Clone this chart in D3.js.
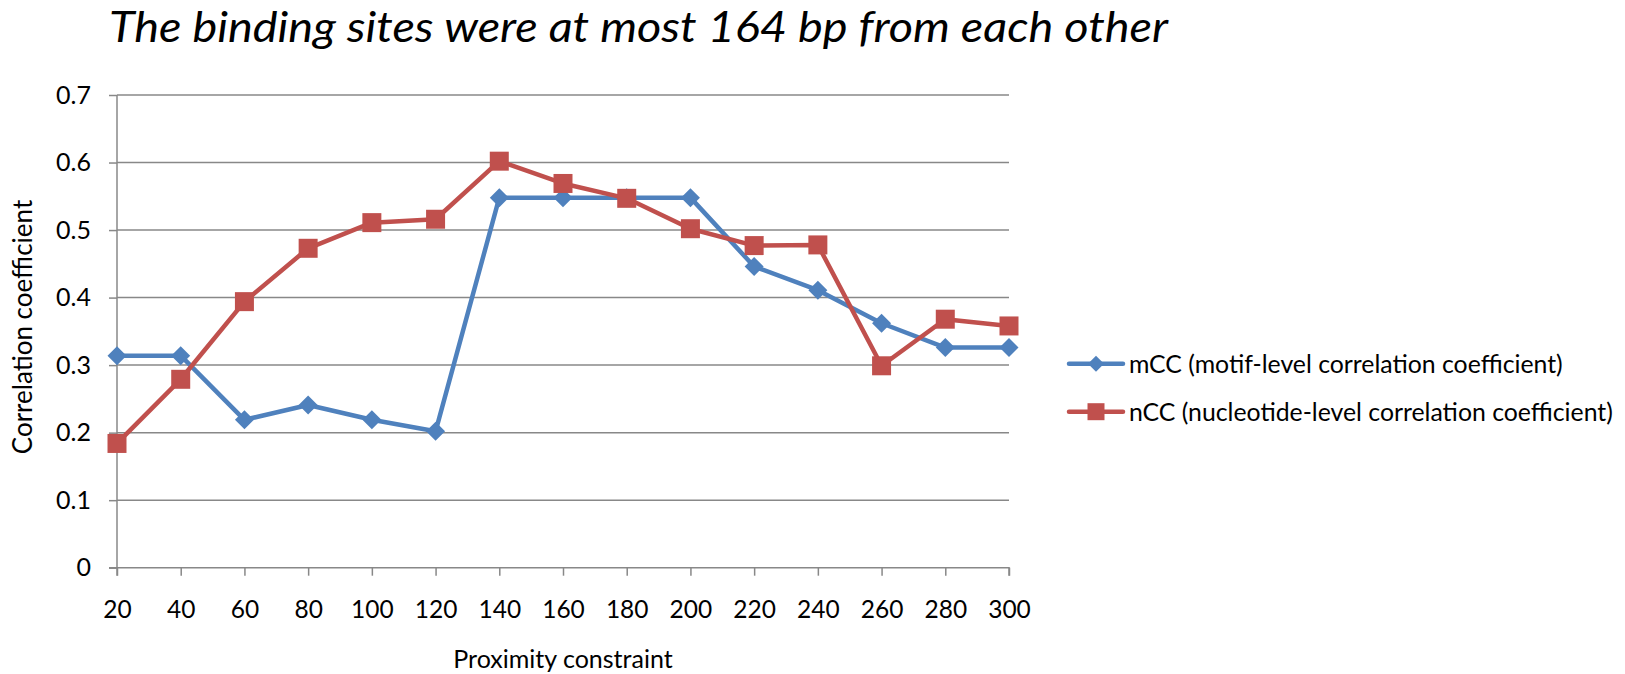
<!DOCTYPE html>
<html>
<head>
<meta charset="utf-8">
<script src="https://cdn.jsdelivr.net/npm/d3@7"></script>
<style>
  html, body { margin: 0; padding: 0; background: #ffffff; }
  svg { display: block; }
  text { font-family: Lato, "Open Sans", sans-serif; fill: #000; }
</style>
</head>
<body>
<svg id="chart" width="1625" height="674"></svg>
<script>
// Proximity constraint (bp) on the category axis
const proximity = [20, 40, 60, 80, 100, 120, 140, 160, 180, 200, 220, 240, 260, 280, 300];

// Motif-level correlation coefficient
const mCC = [0.314, 0.314, 0.219, 0.241, 0.219, 0.202, 0.548, 0.548, 0.548, 0.548, 0.446, 0.411, 0.362, 0.326, 0.326];

// Nucleotide-level correlation coefficient
const nCC = [0.184, 0.279, 0.394, 0.473, 0.511, 0.516, 0.602, 0.569, 0.547, 0.502, 0.477, 0.478, 0.299, 0.368, 0.358];

const yTicks = [0, 0.1, 0.2, 0.3, 0.4, 0.5, 0.6, 0.7];

const seriesNames = [
  "mCC (motif-level correlation coefficient)",
  "nCC (nucleotide-level correlation coefficient)"
];

const titleText = "The binding sites were at most 164 bp from each other";

const blue = "#4F81BD";
const red = "#C0504D";
const gridColor = "#888888";

const svg = d3.select("#chart");

const x = d3.scaleLinear().domain([20, 300]).range([117, 1009]);
const y = d3.scaleLinear().domain([0, 0.7]).range([567.7, 95]);

// Title
svg.append("text")
  .attr("x", 109)
  .attr("y", 42)
  .attr("font-size", 42)
  .attr("font-style", "italic")
  .attr("textLength", 1059)
  .attr("lengthAdjust", "spacingAndGlyphs")
  .text(titleText);

// Horizontal gridlines
svg.append("g")
  .selectAll("line")
  .data(yTicks.slice(1))
  .join("line")
  .attr("x1", x(20))
  .attr("x2", x(300))
  .attr("y1", d => y(d))
  .attr("y2", d => y(d))
  .attr("stroke", gridColor)
  .attr("stroke-width", 1.5);

// Y axis
const yAxis = svg.append("g")
  .attr("transform", `translate(${x(20)},0)`)
  .call(d3.axisLeft(y).tickValues(yTicks).tickSize(8).tickPadding(18)
    .tickFormat(d => d === 0 ? "0" : d3.format(".1f")(d)));
yAxis.select(".domain").attr("stroke", gridColor).attr("stroke-width", 1.5)
  .attr("d", `M0,${y(0.7)}V${y(0) + 8}`);
yAxis.selectAll(".tick line").attr("stroke", gridColor).attr("stroke-width", 1.5);
yAxis.selectAll(".tick text").attr("font-size", 25).attr("font-family", "Lato");

// X axis
const xAxis = svg.append("g")
  .attr("transform", `translate(0,${y(0)})`)
  .call(d3.axisBottom(x).tickValues(proximity).tickSize(8).tickPadding(25)
    .tickFormat(d3.format("d")));
xAxis.select(".domain").attr("stroke", gridColor).attr("stroke-width", 1.5)
  .attr("d", `M${x(20) - 8},0H${x(300)}V8`);
xAxis.selectAll(".tick line").attr("stroke", gridColor).attr("stroke-width", 1.5);
xAxis.selectAll(".tick text").attr("font-size", 24.5).attr("font-family", "Lato");

// Axis titles
svg.append("text")
  .attr("x", 563)
  .attr("y", 668)
  .attr("text-anchor", "middle")
  .attr("font-size", 25)
  .text("Proximity constraint");

svg.append("text")
  .attr("transform", `translate(32,327) rotate(-90)`)
  .attr("text-anchor", "middle")
  .attr("font-size", 26)
  .text("Correlation coefficient");

// Series
const line = d3.line()
  .x((d, i) => x(proximity[i]))
  .y(d => y(d));

const diamond = (cx, cy, r) => `M${cx},${cy - r}L${cx + r},${cy}L${cx},${cy + r}L${cx - r},${cy}Z`;

function drawSeries(values, color, shape) {
  const g = svg.append("g");
  g.append("path")
    .datum(values)
    .attr("d", line)
    .attr("fill", "none")
    .attr("stroke", color)
    .attr("stroke-width", 4.5)
    .attr("stroke-linejoin", "round");
  g.selectAll(".marker")
    .data(values)
    .join("path")
    .attr("class", "marker")
    .attr("d", (d, i) => shape === "diamond"
      ? diamond(x(proximity[i]), y(d), 9.5)
      : `M${x(proximity[i]) - 9.5},${y(d) - 9.5}h19v19h-19Z`)
    .attr("fill", color);
}

drawSeries(mCC, blue, "diamond");
drawSeries(nCC, red, "square");

// Legend
const legend = svg.append("g");
const legendRows = [
  { name: seriesNames[0], color: blue, shape: "diamond", y: 363.7 },
  { name: seriesNames[1], color: red, shape: "square", y: 411.7 }
];
legendRows.forEach(row => {
  legend.append("line")
    .attr("x1", 1069).attr("x2", 1123)
    .attr("y1", row.y).attr("y2", row.y)
    .attr("stroke", row.color)
    .attr("stroke-width", 4.5)
    .attr("stroke-linecap", "round");
  legend.append("path")
    .attr("d", row.shape === "diamond"
      ? diamond(1096, row.y, 8)
      : `M${1096 - 8.5},${row.y - 8.5}h17v17h-17Z`)
    .attr("fill", row.color);
  legend.append("text")
    .attr("x", 1129)
    .attr("y", row.y)
    .attr("dy", "0.36em")
    .attr("font-size", 24.8)
    .text(row.name);
});
</script>
</body>
</html>
